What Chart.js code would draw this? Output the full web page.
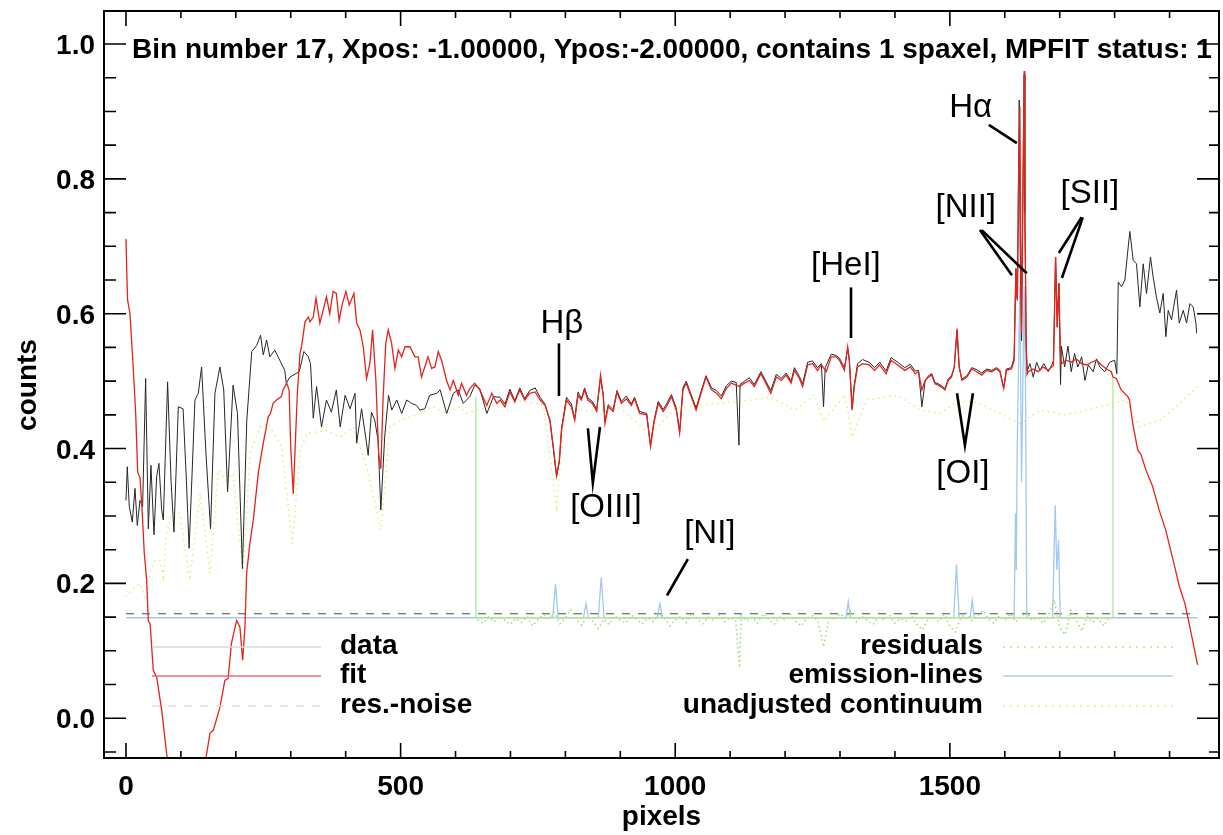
<!DOCTYPE html>
<html>
<head>
<meta charset="utf-8">
<script src="https://cdn.jsdelivr.net/npm/chart.js@4.4.1/dist/chart.umd.min.js"></script>
<style>
  html, body { margin: 0; padding: 0; background: #fff; }
  canvas { display: block; }
</style>
</head>
<body>
<canvas id="spec" width="1223" height="835"></canvas>
<script>
// spectrum values, [pixel, counts]
const dataPts = [
  [0,0.323],[2.4,0.373],[6,0.314],[11.5,0.291],[16.4,0.341],[20.6,0.286],[25.5,0.323],[30.3,0.314],
  [35.8,0.504],[40.7,0.281],[45.5,0.375],[51,0.272],[55.8,0.358],[60,0.378],[65,0.309],[68,0.294],
  [75.8,0.499],[82,0.353],[87.4,0.276],[95.3,0.462],[104,0.459],[110,0.353],[115,0.252],[125.6,0.472],
  [131.7,0.482],[137.7,0.521],[145.6,0.393],[154,0.281],[162,0.482],[171,0.521],[178,0.487],[185,0.336],
  [195,0.494],[203,0.452],[212,0.222],[220,0.442],[229,0.544],[238,0.553],[245,0.568],[250,0.539],
  [256,0.561],[262,0.536],[271,0.546],[280,0.531],[289,0.516],[292,0.497],[298.5,0.506],[315.5,0.514],
  [324,0.544],[332,0.536],[336,0.526],[341,0.445],[347,0.492],[356,0.432],[365,0.472],[374,0.454],
  [383,0.487],[390,0.432],[399,0.479],[408,0.459],[417,0.482],[420,0.408],[429,0.459],[438,0.408],
  [441,0.390],[447,0.454],[453,0.442],[459,0.412],[464,0.309],[471,0.417],[478,0.479],[484,0.457],
  [493,0.472],[502,0.452],[511,0.472],[520,0.467],[529,0.464],[535,0.457],[544,0.459],[553,0.479],
  [566,0.482],[572,0.487],[584,0.452],[596,0.482],[605,0.487],[614,0.467],[626,0.477],[635,0.494],
  [644,0.489],[657,0.452],[669,0.477],[681,0.476],[690,0.466],[699,0.488],[708,0.471],[717,0.490],
  [726,0.474],[735,0.486],[745,0.490],[754,0.476],[763,0.466],[772,0.440],[778,0.400],[784,0.358],
  [789,0.380],[793,0.430],[802,0.476],[811,0.466],[817,0.444],[823,0.484],[829,0.474],[835,0.490],
  [841,0.475],[849,0.470],[857,0.458],[864,0.505],[869,0.480],[872,0.440],[878,0.465],[887,0.458],
  [894,0.486],[902,0.470],[911,0.478],[920,0.466],[926,0.476],[935,0.455],[948,0.452],[955,0.405],
  [961,0.440],[969,0.470],[978,0.458],[984,0.466],[993,0.480],[1002,0.460],[1008,0.425],[1014,0.490],
  [1020,0.500],[1029,0.480],[1038,0.460],[1047,0.485],[1056,0.508],[1066,0.490],[1075,0.486],[1084,0.478],
  [1093,0.493],[1102,0.500],[1111,0.498],[1116,0.405],[1118,0.495],[1126,0.500],[1135,0.505],[1144,0.495],
  [1156,0.514],[1165,0.500],[1174,0.486],[1184,0.510],[1193,0.504],[1202,0.512],[1211,0.500],[1217,0.520],
  [1226,0.507],[1232,0.496],[1241,0.528],[1250,0.530],[1259,0.520],[1266,0.526],[1270,0.462],[1273,0.520],
  [1284,0.540],[1293,0.538],[1299,0.534],[1308,0.520],[1314,0.548],[1317,0.530],[1322,0.460],[1326,0.495],
  [1332,0.526],[1341,0.532],[1353,0.528],[1363,0.520],[1372,0.528],[1384,0.515],[1393,0.535],[1405,0.528],
  [1418,0.520],[1428,0.525],[1437,0.515],[1443,0.516],[1449,0.462],[1455,0.500],[1461,0.508],[1467,0.511],
  [1473,0.498],[1479,0.496],[1485,0.493],[1491,0.489],[1497,0.503],[1503,0.508],[1508,0.520],[1513,0.575],
  [1517,0.520],[1522,0.503],[1531,0.508],[1540,0.520],[1549,0.517],[1558,0.512],[1567,0.518],[1576,0.516],
  [1585,0.520],[1591,0.516],[1598,0.490],[1603,0.518],[1612,0.520],[1617,0.535],[1620.2,0.667],[1621.5,0.630],
  [1623,0.620],[1625,0.800],[1626.3,0.917],[1628,0.700],[1630.5,0.560],[1632,0.700],[1635.3,0.955],[1636.5,0.750],
  [1637.7,0.660],[1639,0.550],[1641,0.515],[1645.7,0.526],[1651.8,0.506],[1658,0.528],[1664,0.516],[1671,0.526],
  [1679,0.514],[1685,0.523],[1688.6,0.530],[1692.5,0.684],[1695.5,0.580],[1698.5,0.645],[1701.5,0.495],[1703,0.552],
  [1709,0.521],[1715,0.552],[1721,0.514],[1727,0.541],[1733,0.521],[1740,0.536],[1746,0.501],[1752,0.524],
  [1761,0.514],[1767,0.533],[1773,0.521],[1782,0.514],[1791,0.528],[1800,0.531],[1804,0.511],[1806.6,0.647],
  [1812.6,0.640],[1818.6,0.650],[1824.7,0.699],[1827.7,0.722],[1833.8,0.679],[1839.8,0.674],[1845.9,0.610],[1852,0.674],
  [1858,0.630],[1865.3,0.684],[1870,0.655],[1876,0.625],[1882.3,0.601],[1888.4,0.630],[1893.3,0.566],[1897.5,0.605],
  [1903.6,0.591],[1912.7,0.635],[1917.6,0.586],[1924.9,0.605],[1931,0.586],[1937,0.615],[1943,0.610],[1948,0.586],
  [1949.3,0.571]
];

const fitPts = [
  [0,0.711],[1.5,0.660],[3,0.620],[7.3,0.600],[12.7,0.527],[17.7,0.452],[21.3,0.365],[25.5,0.357],
  [29.7,0.304],[33.3,0.245],[37.7,0.205],[40.6,0.145],[44,0.140],[49.7,0.071],[55.9,0.061],[65,0.012],
  [74,-0.052],[80,-0.090],[95,-0.150],[110,-0.180],[125,-0.150],[140,-0.090],[145.6,-0.059],[153,-0.022],
  [159,-0.018],[171,0.016],[180,0.056],[186,0.059],[192,0.111],[201.5,0.145],[207.5,0.135],[212.4,0.086],
  [216.6,0.135],[219.7,0.215],[225.7,0.260],[231.8,0.294],[240.9,0.364],[250,0.408],[259,0.447],[263,0.452],
  [268,0.467],[274,0.472],[283,0.477],[286,0.487],[292.5,0.497],[297,0.487],[300,0.402],[304.6,0.333],
  [307.6,0.393],[312,0.482],[316.8,0.541],[320,0.553],[326,0.588],[332,0.595],[335,0.588],[341,0.595],
  [346,0.623],[353,0.586],[359,0.605],[365,0.625],[371,0.600],[377,0.633],[383,0.630],[388,0.590],
  [394,0.615],[400.5,0.633],[406.5,0.613],[415,0.630],[420,0.586],[426,0.576],[432,0.551],[438,0.504],
  [444,0.526],[449,0.576],[455,0.501],[460,0.393],[464,0.370],[468,0.472],[473,0.556],[477.5,0.576],
  [483.6,0.556],[489.7,0.519],[495.8,0.546],[502,0.536],[508,0.551],[517,0.551],[526,0.536],[532,0.536],
  [538,0.506],[544,0.521],[550,0.536],[556.4,0.519],[562.5,0.521],[568.6,0.544],[574.6,0.531],[583.7,0.501],
  [590,0.487],[596,0.501],[605,0.479],[611,0.497],[620,0.479],[626,0.489],[635,0.497],[644,0.487],
  [657,0.464],[666,0.482],[675,0.467],[681,0.472],[690,0.462],[699,0.484],[708,0.469],[717,0.487],
  [726,0.472],[735,0.482],[745,0.484],[754,0.472],[763,0.464],[772,0.442],[778,0.403],[784,0.360],
  [789,0.383],[793,0.427],[802,0.472],[811,0.462],[817,0.442],[823,0.479],[829,0.472],[835,0.487],
  [841,0.472],[849,0.467],[857,0.455],[864,0.509],[869,0.477],[872,0.437],[878,0.462],[887,0.455],
  [894,0.484],[902,0.467],[911,0.474],[920,0.464],[926,0.474],[935,0.452],[948,0.450],[955,0.403],
  [961,0.437],[969,0.467],[978,0.455],[984,0.462],[993,0.477],[1002,0.457],[1008,0.423],[1014,0.487],
  [1020,0.497],[1029,0.477],[1038,0.457],[1047,0.482],[1056,0.506],[1066,0.487],[1075,0.482],[1084,0.474],
  [1093,0.489],[1102,0.497],[1111,0.494],[1117,0.492],[1126,0.497],[1135,0.501],[1144,0.492],[1156,0.511],
  [1165,0.497],[1174,0.482],[1184,0.506],[1193,0.501],[1202,0.509],[1211,0.497],[1217,0.516],[1226,0.504],
  [1232,0.492],[1241,0.524],[1250,0.526],[1259,0.516],[1266,0.524],[1275,0.514],[1284,0.536],[1293,0.536],
  [1299,0.531],[1308,0.516],[1314,0.551],[1317,0.531],[1322,0.457],[1326,0.492],[1332,0.521],[1341,0.526],
  [1353,0.524],[1363,0.516],[1372,0.524],[1384,0.511],[1393,0.531],[1405,0.524],[1418,0.516],[1428,0.521],
  [1437,0.511],[1443,0.514],[1449,0.487],[1455,0.501],[1461,0.506],[1467,0.509],[1473,0.496],[1479,0.494],
  [1485,0.491],[1491,0.487],[1497,0.501],[1503,0.506],[1508,0.521],[1513,0.578],[1517,0.521],[1522,0.501],
  [1531,0.506],[1540,0.518],[1549,0.514],[1558,0.509],[1567,0.516],[1576,0.514],[1585,0.518],[1591,0.514],
  [1598,0.489],[1603,0.516],[1612,0.518],[1617,0.530],[1620.2,0.667],[1621.5,0.630],[1623,0.620],[1625,0.800],
  [1627.5,0.907],[1629,0.700],[1630.5,0.571],[1632,0.700],[1635.3,0.960],[1636.5,0.750],[1637.7,0.660],[1639,0.550],
  [1640.5,0.510],[1642.7,0.514],[1651.8,0.518],[1660.9,0.514],[1670,0.521],[1679,0.516],[1685,0.521],[1688.6,0.523],
  [1692.5,0.684],[1695.5,0.580],[1698.5,0.645],[1701.5,0.535],[1703,0.526],[1712,0.531],[1721,0.528],[1730,0.533],
  [1740,0.526],[1749,0.524],[1758,0.528],[1767,0.531],[1776,0.524],[1785,0.518],[1794,0.514],[1797,0.506],
  [1803,0.504],[1812,0.487],[1824,0.477],[1827,0.472],[1833,0.437],[1842,0.398],[1848,0.391],[1857,0.368],
  [1869,0.344],[1881,0.309],[1893,0.279],[1906,0.236],[1918,0.195],[1928,0.170],[1937,0.135],[1943,0.111],
  [1951,0.079]
];

const noisePts = [[0,0.155],[1951,0.155]];

const residZeroPts = [[637,0.477],[637,0.149],[1797,0.149],[1797,0.506]];

const residPts = [
  [640,0.146],[650,0.141],[660,0.150],[670,0.143],[680,0.152],[690,0.145],[700,0.139],[710,0.148],
  [720,0.142],[730,0.151],[740,0.137],[750,0.146],[760,0.154],[770,0.148],[780,0.157],[790,0.140],
  [800,0.149],[810,0.161],[820,0.146],[830,0.138],[840,0.151],[850,0.144],[860,0.133],[870,0.147],
  [880,0.139],[890,0.152],[900,0.145],[910,0.141],[920,0.153],[930,0.147],[940,0.140],[950,0.149],
  [960,0.143],[970,0.155],[980,0.148],[990,0.137],[1000,0.146],[1010,0.151],[1020,0.142],[1030,0.156],
  [1040,0.147],[1050,0.140],[1060,0.150],[1070,0.145],[1080,0.153],[1090,0.143],[1100,0.149],[1110,0.146],
  [1117,0.075],[1120,0.152],[1130,0.144],[1140,0.150],[1150,0.141],[1160,0.155],[1170,0.147],[1180,0.139],
  [1190,0.150],[1200,0.146],[1210,0.154],[1220,0.143],[1230,0.137],[1240,0.149],[1250,0.152],[1260,0.144],
  [1270,0.106],[1280,0.150],[1290,0.146],[1300,0.155],[1310,0.148],[1320,0.160],[1330,0.143],[1340,0.151],
  [1350,0.145],[1360,0.139],[1370,0.150],[1380,0.146],[1390,0.153],[1400,0.141],[1410,0.148],[1420,0.144],
  [1430,0.152],[1440,0.139],[1450,0.131],[1460,0.147],[1470,0.150],[1480,0.143],[1490,0.154],[1500,0.136],
  [1510,0.128],[1520,0.149],[1530,0.156],[1540,0.145],[1550,0.151],[1560,0.160],[1570,0.147],[1580,0.141],
  [1590,0.152],[1600,0.146],[1610,0.155],[1620,0.143],[1630,0.150],[1640,0.158],[1650,0.145],[1660,0.149],
  [1670,0.141],[1680,0.153],[1690,0.176],[1700,0.135],[1710,0.124],[1720,0.160],[1730,0.147],[1740,0.129],
  [1750,0.151],[1760,0.142],[1770,0.148],[1780,0.137],[1790,0.150]
];

const emissionPts = [
  [0,0.149],[777,0.149],[782,0.199],[787,0.149],[833,0.149],[837.5,0.170],[842,0.149],[860,0.149],
  [865.3,0.209],[870.5,0.149],[967,0.149],[972,0.170],[977,0.149],[1311,0.149],[1315,0.173],[1319,0.149],
  [1507,0.149],[1512,0.228],[1517,0.149],[1537,0.149],[1540.7,0.175],[1544.5,0.149],[1617,0.149],[1619.5,0.304],
  [1621,0.220],[1622.5,0.400],[1627.5,0.640],[1630.5,0.350],[1635.3,0.640],[1637.7,0.500],[1640,0.149],[1687,0.149],
  [1691.8,0.316],[1694.8,0.220],[1697.9,0.264],[1701,0.149],[1951,0.149]
];

const unadjPts = [
  [0,0.180],[13,0.192],[25,0.200],[37,0.175],[44,0.215],[53,0.234],[62,0.234],[68,0.210],
  [74,0.274],[83,0.304],[98,0.304],[116,0.205],[135,0.333],[153,0.215],[168,0.368],[183,0.353],
  [195,0.363],[213,0.215],[226,0.393],[244,0.432],[259,0.437],[283,0.403],[303,0.259],[317,0.398],
  [329,0.422],[365,0.427],[390,0.417],[414,0.432],[438,0.373],[464,0.279],[481,0.432],[499,0.442],
  [535,0.452],[559,0.462],[584,0.452],[608,0.462],[620,0.452],[681,0.467],[720,0.470],[760,0.465],
  [784,0.313],[800,0.460],[850,0.455],[900,0.460],[955,0.420],[1000,0.460],[1078,0.467],[1139,0.472],
  [1175,0.476],[1218,0.457],[1254,0.480],[1270,0.440],[1309,0.480],[1322,0.417],[1348,0.472],[1396,0.478],
  [1409,0.477],[1446,0.457],[1482,0.452],[1513,0.469],[1549,0.469],[1591,0.452],[1628,0.437],[1664,0.457],
  [1712,0.450],[1773,0.462],[1821,0.472],[1845,0.432],[1882,0.442],[1912,0.462],[1945,0.487],[1951,0.492]
];

const xTickValues = [0, 500, 1000, 1500];
const yTickValues = [0, 0.2, 0.4, 0.6, 0.8, 1.0];

// line identifications: label baseline position and pointer strokes, all in data units
const lineIds = [
  { text: 'H\u03B2', x: 793.7, y: 0.571, strokes: [[[788.3, 0.556], [788.3, 0.478]]] },
  { text: '[OIII]', x: 873.8, y: 0.298, strokes: [[[841, 0.430], [850, 0.349], [863, 0.432]]] },
  { text: '[NI]', x: 1063, y: 0.260, strokes: [[[1023, 0.236], [985, 0.182]]] },
  { text: '[HeI]', x: 1310.8, y: 0.657, strokes: [[[1320, 0.639], [1320, 0.564]]] },
  { text: 'H\u03B1', x: 1538, y: 0.892, strokes: [[[1571, 0.880], [1622, 0.853]]] },
  { text: '[NII]', x: 1529, y: 0.744, strokes: [[[1554.7, 0.724], [1613, 0.657]], [[1558, 0.724], [1640, 0.660]]] },
  { text: '[SII]', x: 1755, y: 0.764, strokes: [[[1740, 0.743], [1698.5, 0.690]], [[1742, 0.743], [1704, 0.653]]] },
  { text: '[OI]', x: 1523.8, y: 0.349, strokes: [[[1513, 0.482], [1527.4, 0.405], [1542, 0.482]]] }
];

const FONT = '"Liberation Sans", Arial, Helvetica, sans-serif';
const toXY = pts => pts.map(p => ({ x: p[0], y: p[1] }));

function series(label, pts, color, width, dash) {
  return {
    label,
    data: toXY(pts),
    borderColor: color,
    borderWidth: width,
    borderDash: dash || [],
    pointRadius: 0,
    fill: false,
    tension: 0
  };
}

/** Frame, inward ticks, tick labels, titles, legend and line labels (IDL look). */
const idlDecor = {
  id: 'idlDecor',
  afterDraw(chart) {
    const { ctx, chartArea: a, scales: { x, y } } = chart;
    ctx.save();

    ctx.strokeStyle = '#000';
    ctx.lineWidth = 2;
    ctx.strokeRect(a.left, a.top, a.right - a.left, a.bottom - a.top);

    ctx.lineWidth = 1.6;
    ctx.beginPath();
    for (let v = 0; v <= 1900; v += 100) {
      const px = x.getPixelForValue(v);
      const len = v % 500 === 0 ? 15 : 7;
      ctx.moveTo(px, a.bottom); ctx.lineTo(px, a.bottom - len);
      ctx.moveTo(px, a.top); ctx.lineTo(px, a.top + len);
    }
    for (let i = -1; i <= 21; i++) {
      const py = y.getPixelForValue(i * 0.05);
      if (py < a.top || py > a.bottom) continue;
      const major = i % 4 === 0;
      ctx.moveTo(a.left, py); ctx.lineTo(a.left + (major ? 22 : 12), py);
      ctx.moveTo(a.right, py); ctx.lineTo(a.right - (major ? 22 : 10), py);
    }
    ctx.stroke();

    // tick labels
    ctx.fillStyle = '#000';
    ctx.font = 'bold 28px ' + FONT;
    ctx.textAlign = 'right';
    ctx.textBaseline = 'alphabetic';
    yTickValues.forEach(v => ctx.fillText(v.toFixed(1), a.left - 9, y.getPixelForValue(v) + 10));
    ctx.textAlign = 'center';
    xTickValues.forEach(v => ctx.fillText(String(v), x.getPixelForValue(v), a.bottom + 37));

    // titles
    ctx.textAlign = 'left';
    ctx.fillText('Bin number 17, Xpos: -1.00000, Ypos:-2.00000, contains 1 spaxel, MPFIT status: 1', a.left + 28, a.top + 47);
    ctx.textAlign = 'center';
    ctx.fillText('pixels', (a.left + a.right) / 2, 825);
    ctx.save();
    ctx.translate(28, 385);
    ctx.rotate(-Math.PI / 2);
    ctx.textBaseline = 'middle';
    ctx.fillText('counts', 0, 0);
    ctx.restore();

    // legend
    const rowsLine = [a.bottom - 111, a.bottom - 82, a.bottom - 52];
    const rowsText = [a.bottom - 104, a.bottom - 75, a.bottom - 45];
    const leftItems = [
      ['data', '#d8d8d8', []], ['fit', '#f06a6a', []], ['res.-noise', '#dcdcdc', [8, 8]]
    ];
    const rightItems = [
      ['residuals', '#b5e880', [2, 5]], ['emission-lines', '#a9cdf3', []], ['unadjusted continuum', '#e9f07a', [2, 5]]
    ];
    ctx.lineWidth = 1.3;
    leftItems.forEach((it, i) => {
      ctx.strokeStyle = it[1];
      ctx.setLineDash(it[2]);
      ctx.beginPath();
      ctx.moveTo(a.left + 48, rowsLine[i]); ctx.lineTo(a.left + 217, rowsLine[i]);
      ctx.stroke();
      ctx.textAlign = 'left';
      ctx.fillText(it[0], a.left + 236, rowsText[i]);
    });
    rightItems.forEach((it, i) => {
      ctx.strokeStyle = it[1];
      ctx.setLineDash(it[2]);
      ctx.beginPath();
      ctx.moveTo(a.right - 216, rowsLine[i]); ctx.lineTo(a.right - 46, rowsLine[i]);
      ctx.stroke();
      ctx.textAlign = 'right';
      ctx.fillText(it[0], a.right - 236, rowsText[i]);
    });
    ctx.setLineDash([]);

    // line identifications
    ctx.font = '33px ' + FONT;
    ctx.textAlign = 'center';
    ctx.strokeStyle = '#000';
    ctx.lineWidth = 2.6;
    lineIds.forEach(l => {
      ctx.fillText(l.text, x.getPixelForValue(l.x), y.getPixelForValue(l.y));
      l.strokes.forEach(s => {
        ctx.beginPath();
        s.forEach((p, k) => {
          const px = x.getPixelForValue(p[0]), py = y.getPixelForValue(p[1]);
          if (k === 0) ctx.moveTo(px, py); else ctx.lineTo(px, py);
        });
        ctx.stroke();
      });
    });

    ctx.restore();
  }
};

new Chart(document.getElementById('spec'), {
  type: 'line',
  data: {
    datasets: [
      series('fit', fitPts, '#e3231c', 1.3),
      series('data', dataPts, '#262626', 1),
      series('residual zero', residZeroPts, '#b4e39a', 1.3),
      series('residuals', residPts, '#9bd96a', 1.4, [1.5, 3]),
      series('emission-lines', emissionPts, '#a3c8f0', 1.3),
      series('res.-noise', noisePts, '#666666', 1.2, [8, 8]),
      series('unadjusted continuum', unadjPts, '#e2ee74', 1.5, [1.5, 4])
    ]
  },
  options: {
    responsive: false,
    animation: false,
    events: [],
    layout: { padding: { top: 11, right: 4, left: 0, bottom: 0 } },
    plugins: { legend: { display: false }, tooltip: { enabled: false } },
    scales: {
      x: {
        type: 'linear',
        min: -40,
        max: 1990,
        grid: { display: false, drawTicks: false },
        border: { display: false },
        ticks: { display: false },
        afterFit: s => { s.height = 77; }
      },
      y: {
        type: 'linear',
        min: -0.059,
        max: 1.049,
        grid: { display: false, drawTicks: false },
        border: { display: false },
        ticks: { display: false },
        afterFit: s => { s.width = 104; }
      }
    }
  },
  plugins: [idlDecor]
});
</script>
</body>
</html>
